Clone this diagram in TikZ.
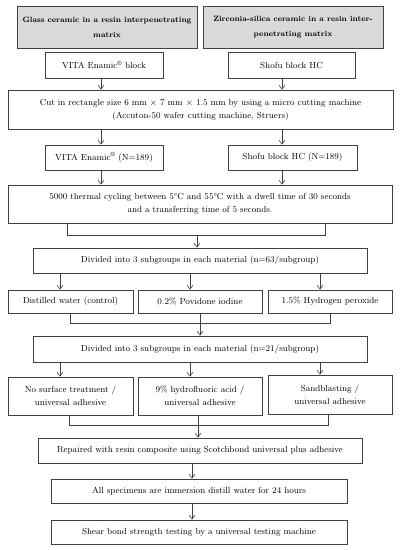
\documentclass[tikz,border=0pt]{standalone}
\usepackage{amssymb}
\usepackage[dvipsnames]{xcolor}
\usetikzlibrary{arrows.meta}
\definecolor{linegray}{RGB}{64,64,64}
\definecolor{headgray}{RGB}{217,217,217}

\begin{document}
\begin{tikzpicture}[x=1pt,y=-1pt,
		box/.style={draw=linegray, line width=0.7pt, align=center, inner sep=0pt, font=\fontsize{8.8}{13}\selectfont},
		headbox/.style={box, fill=headgray, font=\bfseries\fontsize{7.7}{15}\selectfont},
		arr/.style={draw=linegray, line width=0.6pt, -{Straight Barb[length=4pt,width=6pt]}},
		link/.style={draw=linegray, line width=0.6pt}]
			\useasboundingbox (0,0) rectangle (400,550);
			% column positions of the arrows
			\coordinate (colL) at (101,0);
			\coordinate (colR) at (282,0);
			\coordinate (colA) at (60,0);
			\coordinate (colB) at (190,0);
			\coordinate (colC) at (320,0);
			% materials
			\node (glass) [headbox, minimum width=180pt, minimum height=42pt] at (107,27) {Glass ceramic in a resin interpenetrating\\matrix};
			\node (zirc) [headbox, minimum width=180pt, minimum height=42pt] at (293,27) {Zirconia-silica ceramic in a resin inter-\\penetrating matrix};
			\node (vitaA) [box, minimum width=118pt, minimum height=26pt] at (104,65) {VITA Enamic\textsuperscript{\textregistered} block};
			\node (shofuA) [box, minimum width=127pt, minimum height=26pt] at (291.5,65) {Shofu block HC};
			\node (cut) [box, minimum width=385pt, minimum height=39pt] at (200.5,109.5) {Cut in rectangle size 6 mm $\times$ 7 mm $\times$ 1.5 mm by using a micro cutting machine\\(Accuton-50 wafer cutting machine, Struers)};
			\node (vitaB) [box, minimum width=118pt, minimum height=25pt] at (104,157.5) {VITA Enamic\textsuperscript{\textregistered} (N=189)};
			\node (shofuB) [box, minimum width=129pt, minimum height=25pt] at (292.5,157.5) {Shofu block HC (N=189)};
			\node (therm) [box, minimum width=384pt, minimum height=38pt] at (200,204) {5000 thermal cycling between 5\textdegree C and 55\textdegree C with a dwell time of 30 seconds\\and a transferring time of 5 seconds.};
			% storage solutions
			\node (divA) [box, minimum width=334pt, minimum height=25pt] at (200,260.5) {Divided into 3 subgroups in each material (n=63/subgroup)};
			\node (water) [box, minimum width=125pt, minimum height=23pt] at (70.5,301.5) {Distilled water (control)};
			\node (povi) [box, minimum width=124pt, minimum height=23pt] at (200,301.5) {0.2\% Povidone iodine};
			\node (perox) [box, minimum width=124pt, minimum height=23pt] at (330,301.5) {1.5\% Hydrogen peroxide};
			% surface treatments
			\node (divB) [box, minimum width=334pt, minimum height=26pt] at (200,349) {Divided into 3 subgroups in each material (n=21/subgroup)};
			\node (none) [box, minimum width=125pt, minimum height=38pt] at (70.5,396) {No surface treatment /\\universal adhesive};
			\node (hf) [box, minimum width=124pt, minimum height=38pt] at (200,396) {9\% hydrofluoric acid /\\universal adhesive};
			\node (sand) [box, minimum width=124pt, minimum height=39pt] at (330,394.5) {Sandblasting /\\universal adhesive};
			% repair and testing
			\node (repair) [box, minimum width=324pt, minimum height=25pt] at (200,450.5) {Repaired with resin composite using Scotchbond universal plus adhesive};
			\node (immers) [box, minimum width=296pt, minimum height=24pt] at (199,491) {All specimens are immersion distill water for 24 hours};
			\node (shear) [box, minimum width=296pt, minimum height=24pt] at (199,532) {Shear bond strength testing by a universal testing machine};

			\draw [arr] (vitaA.south -| colL) -- (cut.north -| colL);
			\draw [arr] (shofuA.south -| colR) -- (cut.north -| colR);
			\draw [arr] (cut.south -| colL) -- (vitaB.north -| colL);
			\draw [arr] (cut.south -| colR) -- (shofuB.north -| colR);
			\draw [arr] (vitaB.south -| colL) -- (therm.north -| colL);
			\draw [arr] (shofuB.south -| colR) -- (therm.north -| colR);
			\draw [link] ([xshift=-133pt]therm.south) -- ++(0,12) -| ([xshift=125pt]therm.south);
			\draw [arr] ([xshift=-3pt,yshift=-12pt]therm.south) -- ([xshift=-3pt]divA.north);
			\foreach \col/\target in {colA/water, colB/povi, colC/perox}
				\draw [arr] (divA.south -| \col) -- (\target.north -| \col);
			\draw [link] (water.south) -- ++(0,10) -| (perox.south);
			\draw [arr] (povi.south) -- (divB.north);
			\foreach \col/\target in {colA/none, colB/hf, colC/sand}
				\draw [arr] (divB.south -| \col) -- (\target.north -| \col);
			\draw [link] ([xshift=-1pt]none.south) -- ++(0,10) -| ([xshift=-2pt]none.south -| sand.south);
			\draw [arr] ([xshift=-2pt]hf.south) -- ([xshift=-2pt]hf.south |- repair.north);
			\draw [arr] ([xshift=2pt]repair.south -| colB) -- ([xshift=2pt]immers.north -| colB);
			\draw [arr] ([xshift=-7pt]immers.south) -- ([xshift=-7pt]shear.north);
\end{tikzpicture}
\end{document}
